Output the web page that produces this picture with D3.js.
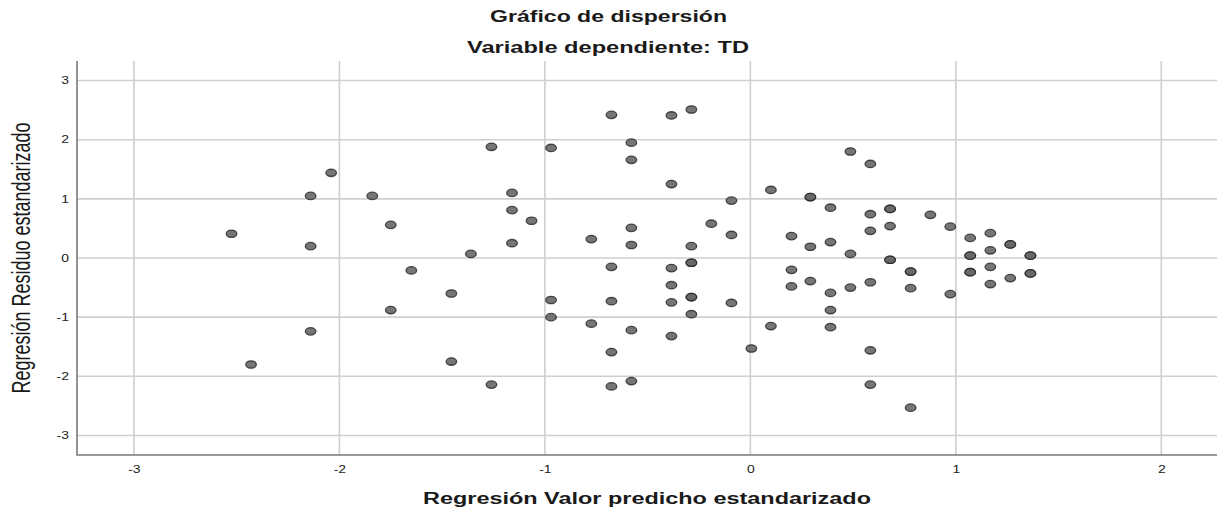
<!DOCTYPE html>
<html>
<head>
<meta charset="utf-8">
<script src="https://cdn.jsdelivr.net/npm/d3@7"></script>
<style>
  html, body { margin: 0; padding: 0; background: #fff; }
  svg { display: block; font-family: "Liberation Sans", Arial, sans-serif; }
</style>
</head>
<body>
<svg id="chart" width="1217" height="512"></svg>
<script>
// predicted (standardized) values, x axis
var predicted = [
  -2.525, -2.43, -2.14, -2.14, -2.14, -2.04, -1.84, -1.75, -1.75, -1.65,
  -1.455, -1.455, -1.36, -1.26, -1.26, -1.16, -1.16, -1.16, -1.065, -0.97,
  -0.97, -0.97, -0.774, -0.774, -0.676, -0.676, -0.676, -0.676, -0.676, -0.579,
  -0.579, -0.579, -0.579, -0.579, -0.579, -0.384, -0.384, -0.384, -0.384, -0.384,
  -0.384, -0.287, -0.287, -0.287, -0.287, -0.287, -0.287, -0.287, -0.19,
  -0.092, -0.092, -0.092, 0.005, 0.10, 0.10, 0.20, 0.20, 0.20, 0.292,
  0.292, 0.292, 0.292, 0.39, 0.39, 0.39, 0.39, 0.39, 0.487, 0.487,
  0.487, 0.584, 0.584, 0.584, 0.584, 0.584, 0.584, 0.68, 0.68,
  0.68, 0.68, 0.68, 0.78, 0.78, 0.78, 0.78, 0.876, 0.973, 0.973,
  1.07, 1.07, 1.07, 1.07, 1.07, 1.168, 1.168, 1.168, 1.168, 1.265,
  1.265, 1.265, 1.363, 1.363, 1.363, 1.363
];
// residual (standardized) values, y axis
var residual = [
  0.41, -1.80, 1.05, 0.20, -1.24, 1.44, 1.05, 0.56, -0.88, -0.21,
  -0.60, -1.75, 0.07, 1.88, -2.14, 1.10, 0.81, 0.25, 0.63, 1.86,
  -0.71, -1.00, 0.32, -1.11, 2.42, -0.15, -0.73, -1.59, -2.17, 1.95,
  1.66, 0.51, 0.22, -1.22, -2.08, 2.41, 1.25, -0.17, -0.46, -0.75,
  -1.32, 2.51, 0.20, -0.08, -0.08, -0.66, -0.66, -0.95, 0.58,
  0.97, 0.39, -0.76, -1.53, 1.15, -1.15, 0.37, -0.20, -0.48, 1.03,
  1.03, 0.19, -0.39, 0.85, 0.27, -0.59, -0.88, -1.17, 1.80, 0.07,
  -0.50, 1.59, 0.74, 0.46, -0.41, -1.56, -2.14, 0.83, 0.83,
  0.54, -0.03, -0.03, -0.23, -0.23, -0.51, -2.53, 0.73, 0.53, -0.61,
  0.34, 0.04, 0.04, -0.24, -0.24, 0.42, 0.13, -0.15, -0.44, 0.23,
  0.23, -0.34, 0.04, 0.04, -0.26, -0.26
];
var xTicks = [-3, -2, -1, 0, 1, 2];
var yTicks = [-3, -2, -1, 0, 1, 2, 3];

var points = predicted.map(function(p, i) { return { x: p, y: residual[i] }; });

var svg = d3.select("#chart"),
    width = +svg.attr("width"),
    height = +svg.attr("height");

// the original picture is stretched sideways, text too
var stretch = 1.4;
var plot = { left: 77, right: 1217, top: 61, bottom: 455 };

var x = d3.scaleLinear().domain([-3.277, 2.271]).range([plot.left, plot.right]);
var y = d3.scaleLinear().domain([-3.33, 3.33]).range([plot.bottom, plot.top]);

// plain hyphen, like the original
var fmt = function(d) { return String(d); };

// grid
svg.append("g")
    .selectAll("line")
    .data(xTicks)
    .enter().append("line")
      .attr("x1", function(d) { return x(d); })
      .attr("x2", function(d) { return x(d); })
      .attr("y1", plot.top)
      .attr("y2", plot.bottom)
      .attr("stroke", "#cfcfcf")
      .attr("stroke-width", 1.6);

svg.append("g")
    .selectAll("line")
    .data(yTicks)
    .enter().append("line")
      .attr("x1", plot.left)
      .attr("x2", plot.right)
      .attr("y1", function(d) { return y(d); })
      .attr("y2", function(d) { return y(d); })
      .attr("stroke", "#cfcfcf")
      .attr("stroke-width", 1.6);

// axes
var xAxis = svg.append("g")
    .attr("transform", "translate(0," + plot.bottom + ")")
    .call(d3.axisBottom(x).tickValues(xTicks).tickSize(0).tickPadding(10.5)
      .tickFormat(fmt));
xAxis.select(".domain").remove();
xAxis.selectAll("text")
    .attr("font-size", 10).attr("fill", "#222")
    .attr("font-family", "Liberation Sans, Arial, sans-serif")
    .attr("transform", "scale(" + stretch + ",1)");

var yAxis = svg.append("g")
    .attr("transform", "translate(" + plot.left + ",0)")
    .call(d3.axisLeft(y).tickValues(yTicks).tickSize(0).tickPadding(5.7)
      .tickFormat(fmt));
yAxis.select(".domain").remove();
yAxis.selectAll("text")
    .attr("font-size", 10).attr("fill", "#222")
    .attr("font-family", "Liberation Sans, Arial, sans-serif")
    .attr("transform", "scale(" + stretch + ",1)");

svg.append("path")
    .attr("d", "M" + plot.left + "," + plot.top + "V" + plot.bottom + "H" + plot.right)
    .attr("fill", "none")
    .attr("stroke", "#7a7a7a")
    .attr("stroke-width", 1.6);

// points
svg.append("g")
    .selectAll("ellipse")
    .data(points)
    .enter().append("ellipse")
      .attr("cx", function(d) { return x(d.x); })
      .attr("cy", function(d) { return y(d.y); })
      .attr("rx", 5.3)
      .attr("ry", 3.7)
      .attr("fill", "#676767")
      .attr("fill-opacity", 0.9)
      .attr("stroke", "#262626")
      .attr("stroke-opacity", 0.8)
      .attr("stroke-width", 1.3);

// titles
svg.append("text")
    .attr("x", 490).attr("y", 21.5)
    .attr("textLength", 237).attr("lengthAdjust", "spacingAndGlyphs")
    .attr("font-size", 16).attr("font-weight", "bold").attr("fill", "#1a1a1a")
    .text("Gráfico de dispersión");

svg.append("text")
    .attr("x", 467).attr("y", 53)
    .attr("textLength", 282).attr("lengthAdjust", "spacingAndGlyphs")
    .attr("font-size", 16).attr("font-weight", "bold").attr("fill", "#1a1a1a")
    .text("Variable dependiente: TD");

svg.append("text")
    .attr("x", 423).attr("y", 504)
    .attr("textLength", 448).attr("lengthAdjust", "spacingAndGlyphs")
    .attr("font-size", 16).attr("font-weight", "bold").attr("fill", "#1a1a1a")
    .text("Regresión Valor predicho estandarizado");

svg.append("text")
    .attr("transform", "translate(30," + y(0) + ") scale(" + stretch + ",1) rotate(-90)")
    .attr("text-anchor", "middle")
    .attr("font-size", 18).attr("fill", "#1a1a1a")
    .text("Regresión Residuo estandarizado");
</script>
</body>
</html>
